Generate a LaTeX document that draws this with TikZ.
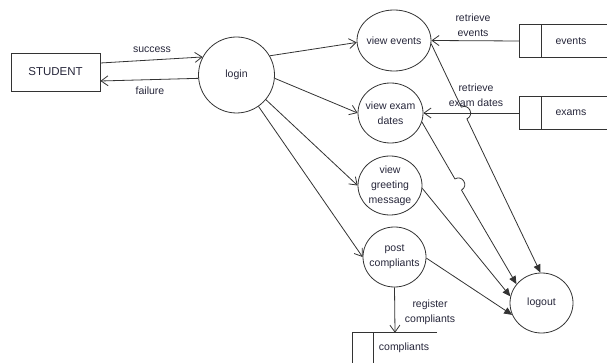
\documentclass[tikz,border=0pt]{standalone}
\usepackage{fontspec}
\setmainfont{Liberation Sans}
\usetikzlibrary{arrows.meta,shapes.geometric,calc}
\definecolor{ln}{HTML}{333333}
\definecolor{txt}{HTML}{26263A}
\begin{document}
\begin{tikzpicture}[x=1pt,y=-1pt,
  every node/.style={text=txt, font=\fontsize{10.5}{15}\selectfont},
  proc/.style={draw=ln, ellipse, inner sep=0pt, line width=0.8pt},
  lbl/.style={inner sep=0pt, align=center},
  flow/.style={draw=ln, line width=0.8pt, -{Straight Barb[length=7pt,width=10pt]}},
  tologout/.style={draw=ln, line width=0.8pt, -{Triangle[length=8pt,width=7pt]}},
  storeline/.style={draw=ln, line width=0.8pt},
  storebox/.style={inner sep=0pt, minimum height=32pt},
]
\useasboundingbox (0,0) rectangle (607,363);

% external entity
\node[draw=ln, line width=0.8pt, minimum width=89pt, minimum height=38pt, inner sep=0pt,
      font=\fontsize{11.5}{14}\selectfont] (student) at (55.5,72) {STUDENT};

% processes
\node[proc, circle, minimum size=76pt, label={[lbl]center:login}] (login) at (236.5,75) {};
\node[proc, minimum width=74pt, minimum height=61pt, label={[lbl]center:{view events}}] (vevents) at (394,40.5) {};
\node[proc, minimum width=65pt, minimum height=60pt, label={[lbl]center:{view exam\\dates}}] (vexam) at (390.5,113) {};
\node[proc, minimum width=64pt, minimum height=59pt, label={[lbl]center:{view\\greeting\\message}}] (greet) at (390,185.5) {};
\node[proc, minimum width=63pt, minimum height=60pt, label={[lbl]center:{post\\compliants}}] (post) at (394.5,257) {};
\node[proc, minimum width=63pt, minimum height=60pt, label={[lbl]center:logout}] (logout) at (541.5,303) {};

% data stores
\node[storebox, minimum width=87pt] (evstore) at (563.5,41) {};
\draw[storeline] (evstore.north east) -- (evstore.north west) -- (evstore.south west) -- (evstore.south east);
\draw[storeline] ([xshift=22pt]evstore.north west) -- ([xshift=22pt]evstore.south west);
\node[lbl] (evtext) at (571,41) {events};

\node[storebox, minimum width=87pt] (exstore) at (563.5,113) {};
\draw[storeline] (exstore.north east) -- (exstore.north west) -- (exstore.south west) -- (exstore.south east);
\draw[storeline] ([xshift=22pt]exstore.north west) -- ([xshift=22pt]exstore.south west);
\node[lbl] (extext) at (571,113) {exams};

\node[inner sep=0pt, minimum width=84pt, minimum height=30pt] (cstore) at (395,348) {};
\draw[storeline] (cstore.north east) -- (cstore.north west) -- (cstore.south west);
\draw[storeline] ([xshift=21pt]cstore.north west) -- ([xshift=21pt]cstore.south west);
\node[lbl] (ctext) at (404,348) {compliants};

% flows
\draw[flow] ([yshift=9pt]student.east) -- (login.152);
\draw[flow] (login.185) -- ([yshift=-9pt]student.east);
\draw[flow] (login.30) -- (vevents.183);
\draw[flow] (login.-5) -- (vexam.west);
\draw[flow] (login.-40) -- (greet.west);
\draw[flow] (login.-55) -- (post.west);
\draw[flow] (evstore.west) -- (vevents.east);
\draw[flow] (exstore.west) -- (vexam.east);
\draw[flow] (post.south) -- (cstore.north);

% flows to logout (with line jumps)
\coordinate (b1) at (461.3,107.1);
\coordinate (a1) at (466.9,118.9);
\coordinate (c1a) at (469.1,103.4);
\coordinate (c1b) at (474.7,115.2);
\draw[tologout] (vevents.-5) -- (b1) .. controls (c1a) and (c1b) .. (a1) -- (logout.92);

\coordinate (b2) at (454.9,178.9);
\coordinate (a2) at (461.5,190.1);
\coordinate (c2a) at (462.4,174.5);
\coordinate (c2b) at (469.0,185.7);
\draw[tologout] (vexam.-16) -- (b2) .. controls (c2a) and (c2b) .. (a2) -- (logout.143);

\draw[tologout] (greet.-5) -- (logout.168);
\draw[tologout] (post.-2) -- (logout.202);

% flow labels
\node[lbl] (lsucc) at (152,50) {success};
\node[lbl] (lfail) at (150,91) {failure};
\node[lbl] (lret1) at (473,25.5) {retrieve\\events};
\node[lbl] (lret2) at (476,95) {retrieve\\exam dates};
\node[lbl] (lreg) at (430,312) {register\\compliants};
\end{tikzpicture}
\end{document}
